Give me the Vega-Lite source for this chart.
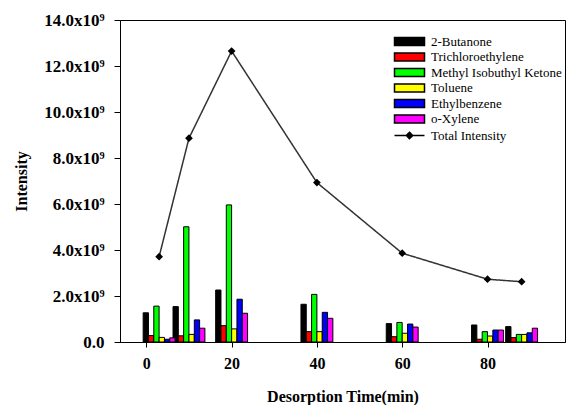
{
  "$schema": "https://vega.github.io/schema/vega-lite/v6.json",
  "width": 445,
  "height": 322,
  "autosize": {"type": "none"},
  "padding": {"left": 120, "top": 20, "right": 3, "bottom": 63},
  "background": "white",
  "config": {
    "view": {"stroke": "black", "strokeWidth": 1},
    "font": "Liberation Serif",
    "axis": {"domainColor": "black", "tickColor": "black", "labelColor": "black", "titleColor": "black", "grid": false, "domainWidth": 1, "tickWidth": 1}
  },
  "datasets": {
    "bars": [
      {"time": 3, "compound": "2-Butanone", "value": 1.27},
      {"time": 3, "compound": "Trichloroethylene", "value": 0.28},
      {"time": 3, "compound": "Methyl Isobuthyl Ketone", "value": 1.56},
      {"time": 3, "compound": "Toluene", "value": 0.2},
      {"time": 3, "compound": "Ethylbenzene", "value": 0.12},
      {"time": 3, "compound": "o-Xylene", "value": 0.18},
      {"time": 10, "compound": "2-Butanone", "value": 1.54},
      {"time": 10, "compound": "Trichloroethylene", "value": 0.27},
      {"time": 10, "compound": "Methyl Isobuthyl Ketone", "value": 5.01},
      {"time": 10, "compound": "Toluene", "value": 0.33},
      {"time": 10, "compound": "Ethylbenzene", "value": 0.96},
      {"time": 10, "compound": "o-Xylene", "value": 0.6},
      {"time": 20, "compound": "2-Butanone", "value": 2.26},
      {"time": 20, "compound": "Trichloroethylene", "value": 0.71},
      {"time": 20, "compound": "Methyl Isobuthyl Ketone", "value": 5.96},
      {"time": 20, "compound": "Toluene", "value": 0.57},
      {"time": 20, "compound": "Ethylbenzene", "value": 1.86},
      {"time": 20, "compound": "o-Xylene", "value": 1.25},
      {"time": 40, "compound": "2-Butanone", "value": 1.64},
      {"time": 40, "compound": "Trichloroethylene", "value": 0.45},
      {"time": 40, "compound": "Methyl Isobuthyl Ketone", "value": 2.07},
      {"time": 40, "compound": "Toluene", "value": 0.45},
      {"time": 40, "compound": "Ethylbenzene", "value": 1.29},
      {"time": 40, "compound": "o-Xylene", "value": 1.03},
      {"time": 60, "compound": "2-Butanone", "value": 0.8},
      {"time": 60, "compound": "Trichloroethylene", "value": 0.23},
      {"time": 60, "compound": "Methyl Isobuthyl Ketone", "value": 0.85},
      {"time": 60, "compound": "Toluene", "value": 0.38},
      {"time": 60, "compound": "Ethylbenzene", "value": 0.78},
      {"time": 60, "compound": "o-Xylene", "value": 0.65},
      {"time": 80, "compound": "2-Butanone", "value": 0.74},
      {"time": 80, "compound": "Trichloroethylene", "value": 0.12},
      {"time": 80, "compound": "Methyl Isobuthyl Ketone", "value": 0.45},
      {"time": 80, "compound": "Toluene", "value": 0.26},
      {"time": 80, "compound": "Ethylbenzene", "value": 0.52},
      {"time": 80, "compound": "o-Xylene", "value": 0.52},
      {"time": 88, "compound": "2-Butanone", "value": 0.67},
      {"time": 88, "compound": "Trichloroethylene", "value": 0.19},
      {"time": 88, "compound": "Methyl Isobuthyl Ketone", "value": 0.33},
      {"time": 88, "compound": "Toluene", "value": 0.33},
      {"time": 88, "compound": "Ethylbenzene", "value": 0.4},
      {"time": 88, "compound": "o-Xylene", "value": 0.6}
    ],
    "total": [
      {"time": 3, "value": 3.71},
      {"time": 10, "value": 8.86},
      {"time": 20, "value": 12.65},
      {"time": 40, "value": 6.93},
      {"time": 60, "value": 3.86},
      {"time": 80, "value": 2.73},
      {"time": 88, "value": 2.62}
    ]
  },
  "layer": [
    {
      "data": {"name": "bars"},
      "encoding": {
        "x": {
          "field": "time", "type": "quantitative",
          "scale": {"domain": [-5, 97], "nice": false, "zero": false},
          "axis": {"values": [0, 20, 40, 60, 80], "title": "Desorption Time(min)", "labelFont": "Liberation Serif", "labelFontWeight": "bold", "labelFontSize": 16, "tickSize": 5, "labelPadding": 8, "titleFont": "Liberation Serif", "titleFontWeight": "bold", "titleFontSize": 16, "titlePadding": 17}
        },
        "y": {
          "field": "value", "type": "quantitative", "stack": null,
          "scale": {"domain": [0, 14], "nice": false},
          "axis": {"values": [0, 2, 4, 6, 8, 10, 12, 14], "labelExpr": "datum.value == 0 ? '0.0' : format(datum.value, '.1f') + 'x10⁹'", "title": "Intensity", "labelFont": "Liberation Serif", "labelFontWeight": "bold", "labelFontSize": 17, "tickSize": 6, "labelPadding": 10, "titleFont": "Liberation Serif", "titleFontWeight": "bold", "titleFontSize": 16, "titlePadding": 14}
        },
        "color": {
          "field": "compound", "type": "nominal",
          "scale": {
            "domain": ["2-Butanone", "Trichloroethylene", "Methyl Isobuthyl Ketone", "Toluene", "Ethylbenzene", "o-Xylene"],
            "range": ["#000000", "#ff0000", "#00ff00", "#ffff00", "#0000ff", "#ff00ff"]
          },
          "legend": {
            "title": null, "orient": "none", "legendX": 283, "legendY": 15,
            "symbolType": "M-3.75,-1H3.75V1H-3.75Z", "symbolSize": 64,
            "symbolStrokeColor": "black", "symbolStrokeWidth": 1.5, "symbolOpacity": 1,
            "labelFont": "Liberation Serif", "labelFontSize": 13, "labelColor": "black",
            "labelOffset": 15, "rowPadding": 0.5, "padding": 0
          }
        }
      },
      "layer": [
        {"transform": [{"filter": "datum.compound == '2-Butanone'"}], "mark": {"type": "bar", "width": 5.3, "xOffset": -13.3, "stroke": "black", "strokeWidth": 1}},
        {"transform": [{"filter": "datum.compound == 'Trichloroethylene'"}], "mark": {"type": "bar", "width": 5.3, "xOffset": -8, "stroke": "black", "strokeWidth": 1}},
        {"transform": [{"filter": "datum.compound == 'Methyl Isobuthyl Ketone'"}], "mark": {"type": "bar", "width": 5.3, "xOffset": -2.67, "stroke": "black", "strokeWidth": 1}},
        {"transform": [{"filter": "datum.compound == 'Toluene'"}], "mark": {"type": "bar", "width": 5.3, "xOffset": 2.67, "stroke": "black", "strokeWidth": 1}},
        {"transform": [{"filter": "datum.compound == 'Ethylbenzene'"}], "mark": {"type": "bar", "width": 5.3, "xOffset": 8, "stroke": "black", "strokeWidth": 1}},
        {"transform": [{"filter": "datum.compound == 'o-Xylene'"}], "mark": {"type": "bar", "width": 5.3, "xOffset": 13.3, "stroke": "black", "strokeWidth": 1}}
      ]
    },
    {
      "data": {"name": "total"},
      "mark": {"type": "line", "color": "#333333", "strokeWidth": 1.5},
      "encoding": {
        "x": {"field": "time", "type": "quantitative"},
        "y": {"field": "value", "type": "quantitative"},
        "strokeDash": {
          "datum": "Total Intensity",
          "scale": {"range": [[1, 0]]},
          "legend": {
            "title": null, "orient": "none", "legendX": 283, "legendY": 109,
            "symbolType": "M-3.75,0H3.75M-0.8,0L0,-0.8L0.8,0L0,0.8Z",
            "symbolSize": 64, "symbolFillColor": "black", "symbolStrokeColor": "black", "symbolStrokeWidth": 1.5, "symbolOpacity": 1,
            "labelFont": "Liberation Serif", "labelFontSize": 13, "labelColor": "black",
            "labelOffset": 15, "padding": 0,
            "encode": {"symbols": {"update": {
              "fill": {"value": "black"},
              "stroke": {"value": "black"},
              "strokeDash": {"value": [1, 0]}
            }}}
          }
        }
      }
    },
    {
      "data": {"name": "total"},
      "mark": {"type": "point", "shape": "diamond", "filled": true, "color": "black", "size": 60, "opacity": 1},
      "encoding": {
        "x": {"field": "time", "type": "quantitative"},
        "y": {"field": "value", "type": "quantitative"}
      }
    }
  ]
}
